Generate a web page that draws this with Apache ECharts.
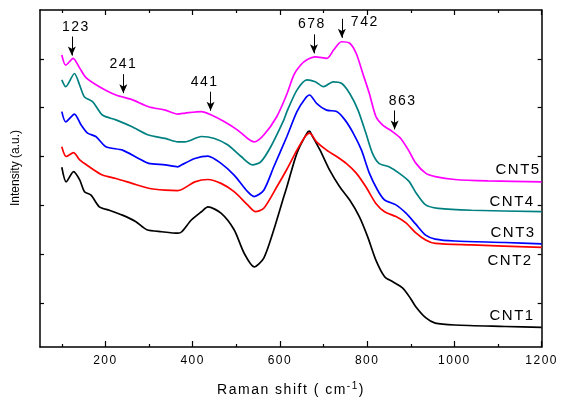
<!DOCTYPE html>
<html>
<head>
<meta charset="utf-8">
<script src="https://cdn.jsdelivr.net/npm/echarts@6/dist/echarts.min.js"></script>
<style>
  html, body { margin: 0; padding: 0; background: #fff; }
  #chart { width: 561px; height: 400px; }
</style>
</head>
<body>
<div id="chart"></div>
<script>
// Raman spectra of five CNT samples, stacked with vertical offsets (a.u.)
const cnt1 = [[100,3780],[110,3480],[127,3690],[141,3520],[152,3280],[167,3210],[186,2970],[209,2900],[239,2800],[269,2670],[295,2500],[329,2460],[366,2430],[375,2460],[397,2700],[420,2870],[435,2970],[465,2840],[495,2500],[518,2020],[541,1740],[563,1920],[586,2500],[609,3180],[616,3380],[639,4070],[662,4480],[668,4520],[673,4440],[692,4130],[714,3720],[737,3380],[760,3110],[782,2770],[801,2360],[820,1880],[840,1540],[858,1440],[881,1310],[899,1100],[911,930],[934,700],[956,590],[1001,550],[1116,520],[1200,500]];
const cnt2 = [[100,4200],[110,4000],[127,4080],[141,3930],[163,3790],[193,3620],[224,3550],[261,3450],[299,3350],[337,3310],[366,3300],[405,3480],[435,3530],[465,3450],[495,3280],[526,3010],[544,2870],[563,2940],[593,3380],[616,3740],[639,4130],[658,4410],[668,4480],[684,4300],[707,4130],[730,4000],[752,3860],[775,3660],[797,3380],[820,3040],[840,2870],[866,2770],[889,2640],[911,2440],[934,2290],[956,2220],[1039,2190],[1200,2140]];
const cnt3 = [[100,4920],[109,4710],[129,4870],[144,4650],[159,4480],[178,4410],[201,4200],[239,4130],[276,3960],[299,3860],[337,3830],[366,3790],[375,3830],[405,3960],[435,4010],[465,3860],[495,3620],[526,3280],[541,3180],[563,3310],[586,3790],[616,4410],[639,4920],[658,5190],[668,5260],[684,5090],[707,4950],[730,4920],[749,4750],[768,4480],[787,4130],[805,3660],[824,3310],[840,3110],[866,3010],[889,2840],[911,2620],[934,2390],[956,2310],[1001,2270],[1116,2240],[1200,2210]];
const cnt4 = [[100,5570],[109,5430],[129,5700],[141,5460],[152,5220],[171,5120],[193,4850],[224,4750],[261,4610],[299,4440],[337,4370],[366,4300],[382,4300],[420,4410],[450,4370],[480,4240],[511,4000],[537,3830],[556,3890],[579,4200],[609,4750],[616,4920],[639,5360],[662,5570],[681,5530],[700,5430],[722,5530],[741,5500],[760,5290],[779,4950],[797,4480],[812,4070],[827,3860],[850,3790],[873,3660],[896,3490],[911,3270],[934,3010],[963,2940],[1039,2900],[1200,2870]];
const cnt5 = [[100,6080],[109,5870],[126,6010],[141,5810],[156,5610],[186,5430],[224,5260],[262,5160],[299,5020],[337,4950],[366,4870],[383,4890],[420,4920],[443,4850],[473,4710],[503,4540],[526,4370],[541,4300],[563,4440],[593,4820],[616,5280],[632,5670],[647,5870],[662,5980],[681,6040],[708,6010],[723,6180],[741,6350],[760,6320],[775,6110],[790,5700],[805,5290],[820,4820],[835,4650],[858,4510],[877,4370],[896,4110],[911,3870],[934,3660],[956,3590],[1001,3530],[1077,3500],[1200,3480]];

const sampleNames = ['CNT1', 'CNT2', 'CNT3', 'CNT4', 'CNT5'];
const peakShifts = [123, 241, 441, 678, 742, 863];
const xMajorTicks = [200, 400, 600, 800, 1000, 1200];
const xMinorTicks = [100, 300, 500, 700, 900, 1100];
const yTicks = [1000, 2000, 3000, 4000, 5000, 6000];

const X_MIN = 50, X_MAX = 1200, Y_MIN = 100, Y_MAX = 7000;
const GRID = { left: 40, right: 14, top: 10, bottom: 53 };
// wide-set lettering for the plot texts; the y title uses a plain face
const FONT = '"Liberation Sans", sans-serif';
const PLAIN_FONT = 'Arial, Helvetica, sans-serif';
const unitsPerPx = (Y_MAX - Y_MIN) / (400 - GRID.top - GRID.bottom);

(function addTracking() {
  const proto = window.CanvasRenderingContext2D && CanvasRenderingContext2D.prototype;
  if (!proto || !('letterSpacing' in proto)) return;
  const fill = proto.fillText, measure = proto.measureText;
  const apply = ctx => { ctx.letterSpacing = /Liberation Sans/.test(ctx.font) ? '1.5px' : '0px'; };
  proto.fillText = function () { apply(this); return fill.apply(this, arguments); };
  proto.measureText = function () { apply(this); return measure.apply(this, arguments); };
})();

const spectra = [cnt1, cnt2, cnt3, cnt4, cnt5];
const colors = ['#000000', '#ff0000', '#0000ff', '#008080', '#ff00ff'];
// name label placement next to the flat tail of each spectrum
const nameLabelStyle = [
  { distance: 7, dy: -12 },
  { distance: 9, dy: 13 },
  { distance: 6, dy: -11 },
  { distance: 7, dy: -10 },
  { distance: 1, dy: -12 }
];
// per-peak label nudges (px)
const peakLabelStyle = {
  123: { offset: [4, 0] },
  241: { offset: [0, 0] },
  441: { offset: [-6, 0] },
  678: { offset: [-2, 0] },
  742: { position: 'right', distance: 6, offset: [3, 3] },
  863: { offset: [8, 0] }
};

// value of a spectrum at a given shift (used to anchor the arrows)
function valueAt(series, x) {
  for (let i = 1; i < series.length; i++) {
    const [x0, y0] = series[i - 1], [x1, y1] = series[i];
    if (x >= x0 && x <= x1) return y0 + (y1 - y0) * (x - x0) / (x1 - x0);
  }
  return series[series.length - 1][1];
}

const arrowGapPx = 4, arrowLenPx = 19;
const arrowLines = peakShifts.map(p => {
  const tip = valueAt(cnt5, p) + arrowGapPx * unitsPerPx;
  const tail = tip + arrowLenPx * unitsPerPx;
  return [{ coord: [p, tail] }, { coord: [p, tip] }];
});
const arrowLabels = peakShifts.map(p => {
  const tail = valueAt(cnt5, p) + (arrowGapPx + arrowLenPx) * unitsPerPx;
  const s = peakLabelStyle[p];
  return {
    coord: [p, tail],
    label: {
      show: true,
      formatter: String(p),
      position: s.position || 'top',
      distance: s.distance != null ? s.distance : 2,
      offset: s.offset,
      fontSize: 14
    }
  };
});

const series = spectra.map((data, i) => {
  const last = data[data.length - 1];
  const st = nameLabelStyle[i];
  const nameLabel = {
    coord: last,
    label: {
      show: true, formatter: sampleNames[i], position: 'left',
      distance: st.distance, offset: [0, st.dy], fontSize: 15
    }
  };
  const s = {
    name: sampleNames[i],
    type: 'line',
    data: data,
    showSymbol: false,
    symbol: 'none',
    smooth: 0.25,
    lineStyle: { color: colors[i], width: 1.7 },
    itemStyle: { color: colors[i] },
    z: 2 + i,
    markPoint: {
      symbol: 'circle',
      symbolSize: 0,
      silent: true,
      label: { show: true, color: '#000', fontFamily: FONT },
      data: i === spectra.length - 1 ? [nameLabel].concat(arrowLabels) : [nameLabel]
    }
  };
  if (i === spectra.length - 1) {
    s.markLine = {
      silent: true,
      symbol: ['none', 'arrow'],
      symbolSize: [6, 9],
      lineStyle: { color: '#000', width: 1, type: 'solid' },
      label: { show: false },
      data: arrowLines
    };
  }
  return s;
});

function xAxisDef(position, ticks, len, showLine, showLabels) {
  return {
    type: 'value', min: X_MIN, max: X_MAX, position: position,
    axisLine: { show: showLine, onZero: false, lineStyle: { color: '#000', width: 1.5 } },
    axisTick: { show: true, inside: true, length: len, customValues: ticks, lineStyle: { color: '#000', width: 1.2 } },
    axisLabel: showLabels
      ? { show: true, customValues: ticks, formatter: v => String(v), color: '#000', fontFamily: FONT, fontSize: 12, margin: 7 }
      : { show: false },
    splitLine: { show: false }
  };
}
function yAxisDef(position) {
  return {
    type: 'value', min: Y_MIN, max: Y_MAX, position: position,
    axisLine: { show: true, onZero: false, lineStyle: { color: '#000', width: 1.5 } },
    axisTick: { show: true, inside: true, length: 4, customValues: yTicks, lineStyle: { color: '#000', width: 1.2 } },
    axisLabel: { show: false },
    splitLine: { show: false }
  };
}

const chart = echarts.init(document.getElementById('chart'), null, { renderer: 'canvas' });
chart.setOption({
  animation: false,
  backgroundColor: '#fff',
  grid: GRID,
  xAxis: [
    xAxisDef('bottom', xMajorTicks, 6, true, true),
    xAxisDef('bottom', xMinorTicks, 3, false, false),
    xAxisDef('top', xMajorTicks, 5, true, false),
    xAxisDef('top', xMinorTicks, 3, false, false)
  ],
  yAxis: [yAxisDef('left'), yAxisDef('right')],
  series: series,
  graphic: [
    {
      type: 'text', x: 291, y: 390, silent: true,
      style: {
        text: '{a|Raman shift ( cm}{s|-1}{a|)}',
        align: 'center', verticalAlign: 'middle',
        rich: {
          a: { fontFamily: FONT, fontSize: 14, fill: '#000', lineHeight: 20 },
          s: { fontFamily: FONT, fontSize: 10, fill: '#000', verticalAlign: 'top', lineHeight: 20, padding: [0, 0, 8, 0] }
        }
      }
    },
    {
      type: 'text', x: 16, y: 168, rotation: Math.PI / 2, silent: true,
      style: {
        text: 'Intensity (a.u.)', fontFamily: PLAIN_FONT, fontSize: 12, fill: '#000',
        align: 'center', verticalAlign: 'middle'
      }
    }
  ]
});
</script>
</body>
</html>
